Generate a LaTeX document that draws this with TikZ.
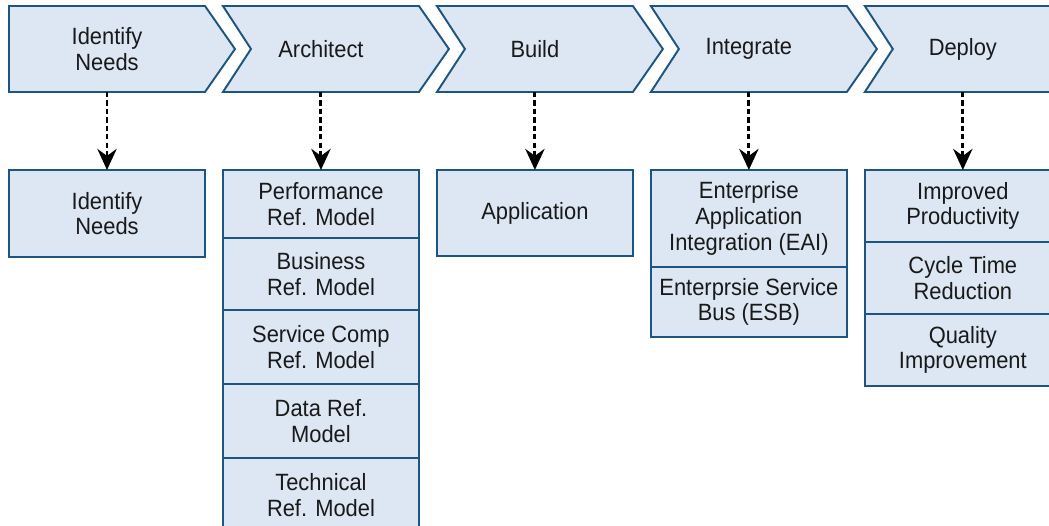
\documentclass[tikz,border=0pt]{standalone}
\usepackage{fontspec}
\setmainfont[FakeStretch=0.93]{Liberation Sans}
\usepackage{xcolor}
\usepackage{tikz}
\usetikzlibrary{arrows.meta,positioning,backgrounds}

\definecolor{boxfill}{RGB}{221,231,243}
\definecolor{boxedge}{RGB}{30,84,128}
\definecolor{inktext}{RGB}{25,25,25}

\begin{document}
\begin{tikzpicture}[
      x=0.02cm, y=0.02cm,
      stage/.style={
         rectangle,
         inner sep=0pt,
         outer sep=0pt,
         minimum width=3.92cm,
         minimum height=1.72cm,
         align=center,
         text=inktext,
         font=\fontsize{13.4}{14.6}\selectfont},
      chevron/.style={draw=boxedge, fill=boxfill, line width=1.1pt, line join=miter},
      mybox/.style={
         rectangle,
         draw=boxedge,
         fill=boxfill,
         line width=1.1pt,
         inner sep=2pt,
         outer sep=0pt,
         minimum width=3.92cm,
         minimum height=1.44cm,
         align=center,
         text=inktext,
         font=\fontsize{13.4}{14.6}\selectfont},
      myarrow/.style={-{Stealth[length=12pt,width=11pt,inset=4pt]},
         line width=1.7pt, dash pattern=on 3pt off 1.8pt},
      node distance=1.56cm and 0.36cm
      ]
\useasboundingbox (0,0) rectangle (1049,526);

% process stages
\node[stage] at (107,477) (idn) {Identify\\Needs};
\node[stage,right=of idn] (arc) {Architect};
\node[stage,right=of arc] (bld) {Build};
\node[stage,right=of bld] (itg) {Integrate};
\node[stage,right=of itg] (dpl) {Deploy};

\begin{scope}[on background layer]
\foreach \n/\d in {idn/0, arc/28, bld/28, itg/28, dpl/28}
   \draw[chevron] (\n.north west) -- (\n.north east) -- ++(30,-43)
      -- (\n.south east) -- (\n.south west) -- ++(\d,43) -- cycle;
\end{scope}

% results of each stage
\node[mybox,below=of idn,minimum height=1.74cm] (bidn) {Identify\\Needs};

\node[mybox,below=of arc,minimum height=1.36cm] (bperf) {Performance\\Ref. Model};
\node[mybox,below=0pt of bperf                ] (bbus)  {Business\\Ref. Model};
\node[mybox,below=0pt of bbus,minimum height=1.48cm] (bsvc)  {Service Comp\\Ref. Model};
\node[mybox,below=0pt of bsvc,minimum height=1.48cm] (bdata) {Data Ref.\\Model};
\node[mybox,below=0pt of bdata,minimum height=1.48cm] (btech) {Technical\\Ref. Model};

\node[mybox,below=of bld,minimum height=1.72cm] (bapp) {Application};

\node[mybox,below=of itg,minimum height=1.94cm] (beai) {Enterprise\\Application\\Integration (EAI)};
\node[mybox,below=0pt of beai,minimum height=1.40cm] (besb) {Enterprsie Service\\Bus (ESB)};

\node[mybox,below=of dpl              ] (bprod) {Improved\\Productivity};
\node[mybox,below=0pt of bprod        ] (bcyc)  {Cycle Time\\Reduction};
\node[mybox,below=0pt of bcyc         ] (bqual) {Quality\\Improvement};

\foreach \i/\j in {% start node/end node
      idn/bidn, arc/bperf, bld/bapp, itg/beai, dpl/bprod}
       \draw[myarrow] (\i) -- (\j);

\end{tikzpicture}
\end{document}
